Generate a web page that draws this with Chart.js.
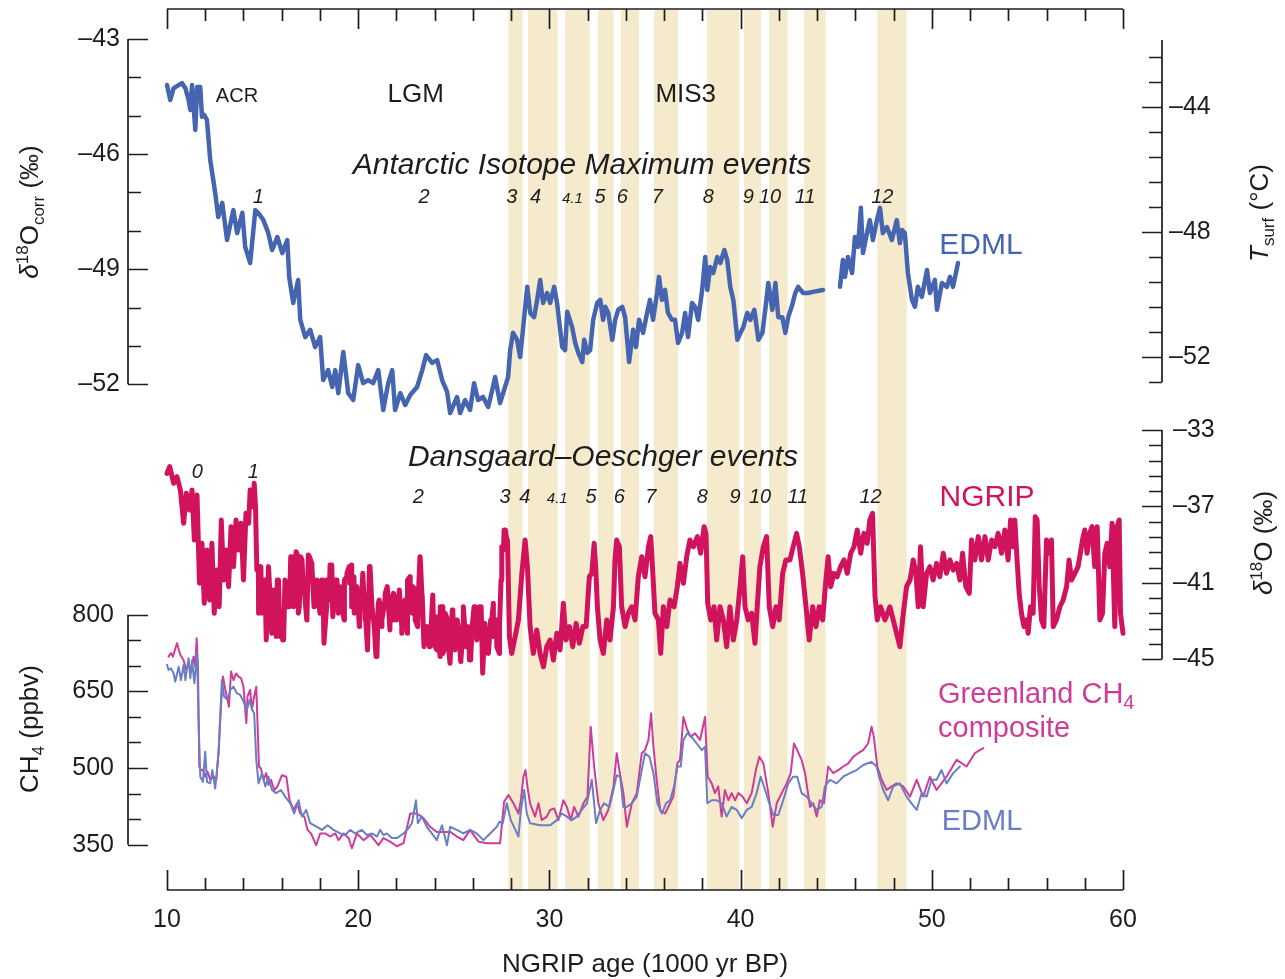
<!DOCTYPE html>
<html lang="en">
<head>
<meta charset="utf-8">
<title>EDML and NGRIP records, 10–60 kyr BP</title>
<script src="https://cdn.jsdelivr.net/npm/chart.js@4.4.1/dist/chart.umd.min.js"></script>
<style>
  body { margin: 0; background: #ffffff; }
  canvas { display: block; }
</style>
</head>
<body>
<canvas id="iceChart" width="1285" height="979"></canvas>
<script>
// ---- data (ages in 1000 yr BP, NGRIP time scale) ----

// EDML d18O corr (permil); null marks the gap in the record
const edmlAge = [
  10.00, 10.17, 10.35, 10.61, 10.78, 10.96, 11.13, 11.22, 11.31, 11.48,
  11.58, 11.74, 11.83, 11.95, 12.09, 12.26, 12.42, 12.52, 12.68, 12.89,
  13.14, 13.47, 13.67, 13.94, 14.09, 14.35, 14.62, 14.77, 15.04, 15.30,
  15.50, 15.77, 16.03, 16.29, 16.39, 16.60, 16.86, 16.97, 17.23, 17.49,
  17.75, 18.01, 18.17, 18.43, 18.64, 18.80, 18.96, 19.22, 19.48, 19.74,
  20.00, 20.26, 20.52, 20.78, 21.05, 21.31, 21.57, 21.78, 21.93, 22.20,
  22.46, 22.72, 23.08, 23.35, 23.55, 23.87, 24.13, 24.39, 24.65, 24.81,
  25.17, 25.33, 25.59, 25.85, 26.06, 26.27, 26.53, 26.80, 27.01, 27.16,
  27.42, 27.68, 27.84, 27.95, 28.10, 28.31, 28.47, 28.63, 28.84, 29.00,
  29.20, 29.36, 29.52, 29.67, 29.88, 30.04, 30.25, 30.40, 30.67, 30.82,
  30.93, 31.19, 31.35, 31.51, 31.72, 31.82, 31.98, 32.13, 32.29, 32.50,
  32.66, 32.81, 32.92, 33.08, 33.29, 33.44, 33.60, 33.81, 33.96, 34.17,
  34.38, 34.53, 34.69, 34.90, 35.11, 35.26, 35.42, 35.63, 35.73, 35.89,
  36.05, 36.20, 36.41, 36.57, 36.73, 36.94, 37.10, 37.25, 37.46, 37.62,
  37.78, 37.99, 38.15, 38.26, 38.41, 38.57, 38.78, 38.94, 39.15, 39.30,
  39.46, 39.62, 39.83, 39.99, 40.14, 40.35, 40.51, 40.72, 40.93, 41.14,
  41.29, 41.45, 41.66, 41.82, 41.97, 42.18, 42.34, 42.49, 42.70, 42.86,
  43.01, 43.27, 43.53, 43.78, 44.31, 44.80,
  45.20, 45.35, 45.46, 45.62, 45.83, 45.98, 46.14, 46.29, 46.40, 46.61,
  46.76, 46.92, 47.13, 47.29, 47.44, 47.65, 47.91, 48.17, 48.33, 48.44,
  48.59, 48.75, 48.96, 49.12, 49.27, 49.48, 49.75, 49.90, 50.16, 50.27,
  50.53, 50.79, 50.95, 51.11, 51.37
];
const edmlD18O = [
  -44.20, -44.59, -44.28, -44.20, -44.15, -44.28, -44.59, -44.85, -44.20, -45.37,
  -44.25, -44.25, -45.03, -44.98, -45.11, -46.15, -46.67, -47.01, -47.64, -47.27,
  -48.24, -47.46, -48.06, -47.53, -48.42, -48.84, -47.46, -47.53, -47.72, -48.06,
  -48.50, -48.16, -48.58, -48.24, -49.20, -49.88, -49.28, -50.32, -50.77, -50.58,
  -51.03, -50.77, -51.89, -51.63, -52.07, -51.63, -52.23, -51.16, -52.23, -52.41,
  -51.50, -51.97, -51.89, -51.97, -51.63, -52.67, -51.97, -51.63, -52.67, -52.23,
  -52.54, -52.28, -52.07, -51.63, -51.24, -51.44, -51.37, -51.89, -52.20, -52.75,
  -52.33, -52.75, -52.41, -52.67, -51.97, -52.41, -52.33, -52.59, -52.15, -51.81,
  -52.49, -52.07, -51.81, -51.11, -50.66, -50.84, -51.29, -50.51, -49.46, -50.14,
  -50.25, -49.80, -49.28, -49.88, -49.62, -49.88, -49.46, -49.88, -51.03, -51.11,
  -50.11, -50.51, -50.92, -51.18, -51.42, -50.84, -51.18, -51.11, -50.32, -49.88,
  -49.80, -50.32, -49.98, -50.14, -50.84, -50.32, -50.06, -49.98, -50.25, -51.42,
  -50.58, -51.03, -50.32, -50.66, -50.14, -49.80, -50.32, -49.62, -49.20, -49.80,
  -49.54, -50.14, -50.32, -50.32, -50.92, -50.66, -50.14, -50.77, -49.88, -49.98,
  -50.32, -49.54, -48.68, -49.54, -48.94, -49.10, -48.68, -48.84, -48.50, -48.76,
  -49.46, -49.80, -50.84, -50.66, -50.51, -50.14, -50.32, -50.06, -50.84, -50.66,
  -50.06, -49.36, -50.06, -49.36, -50.25, -50.25, -50.66, -50.25, -49.93, -49.62,
  -49.46, -49.62, -49.62, -49.59, -49.54, null,
  -49.46, -48.76, -49.20, -48.68, -49.10, -48.16, -48.42, -47.40, -48.58, -48.06,
  -47.72, -48.24, -47.72, -47.40, -48.06, -47.90, -48.24, -47.72, -48.32, -47.98,
  -48.06, -49.10, -49.80, -49.98, -49.46, -49.72, -49.02, -49.62, -49.28, -50.06,
  -49.36, -49.46, -49.20, -49.46, -48.84
];

// NGRIP d18O (permil)
const ngripAge = [
  10.00, 10.14, 10.35, 10.52, 10.70, 10.87, 11.01, 11.18, 11.31, 11.43,
  11.57, 11.70, 11.83, 11.95, 12.09, 12.23, 12.35, 12.47, 12.61, 12.73,
  12.84, 12.96, 13.10, 13.22, 13.35, 13.48, 13.61, 13.74, 13.87, 14.00,
  14.13, 14.27, 14.35, 14.50, 14.56, 14.63, 14.70, 14.79, 14.91, 15.05,
  15.19, 15.31, 15.44, 15.57, 15.71, 15.83, 15.96, 16.10, 16.24, 16.41,
  16.53, 16.65, 16.80, 16.92, 17.06, 17.18, 17.32, 17.45, 17.58, 17.70,
  17.84, 18.01, 18.15, 18.22, 18.36, 18.48, 18.62, 18.75, 18.89, 19.02,
  19.15, 19.28, 19.41, 19.55, 19.65, 19.79, 19.93, 20.07, 20.19, 20.37,
  20.49, 20.59, 20.72, 20.84, 20.98, 21.10, 21.24, 21.41, 21.53, 21.67,
  21.85, 21.99, 22.13, 22.28, 22.46, 22.58, 22.72, 22.86, 22.98, 23.15,
  23.24, 23.33, 23.45, 23.59, 23.76, 23.94, 24.11, 24.29, 24.43, 24.55,
  24.69, 24.81, 24.95, 25.07, 25.24, 25.37, 25.50, 25.68, 25.82, 25.96,
  26.12, 26.29, 26.43, 26.52, 26.64, 26.81, 26.95, 27.07, 27.25, 27.39,
  27.47, 27.60, 27.70, 27.81, 27.91, 28.03, 28.21, 28.38, 28.56, 28.73,
  28.85, 28.99, 29.16, 29.34, 29.51, 29.69, 29.86, 30.04, 30.21, 30.39,
  30.56, 30.73, 30.87, 31.05, 31.22, 31.40, 31.57, 31.75, 31.92, 32.09,
  32.22, 32.34, 32.43, 32.51, 32.65, 32.82, 33.00, 33.17, 33.35, 33.43,
  33.52, 33.66, 33.78, 33.96, 34.13, 34.31, 34.48, 34.65, 34.83, 35.00,
  35.18, 35.30, 35.41, 35.52, 35.70, 35.82, 35.96, 36.14, 36.31, 36.52,
  36.69, 36.83, 37.01, 37.18, 37.35, 37.53, 37.74, 37.91, 38.09, 38.19,
  38.28, 38.44, 38.61, 38.75, 38.92, 39.10, 39.27, 39.44, 39.62, 39.80,
  39.97, 40.11, 40.23, 40.40, 40.58, 40.75, 40.87, 41.01, 41.19, 41.36,
  41.50, 41.68, 41.85, 42.02, 42.20, 42.37, 42.58, 42.75, 42.93, 43.07,
  43.24, 43.42, 43.59, 43.77, 43.94, 44.11, 44.29, 44.46, 44.58, 44.71,
  44.88, 45.05, 45.23, 45.41, 45.58, 45.76, 45.93, 46.10, 46.28, 46.45,
  46.62, 46.76, 46.90, 47.03, 47.15, 47.32, 47.55, 47.81, 48.07, 48.33,
  48.51, 48.68, 48.86, 49.03, 49.17, 49.29, 49.41, 49.55, 49.73, 49.90,
  50.07, 50.25, 50.42, 50.60, 50.77, 50.95, 51.12, 51.30, 51.47, 51.61,
  51.78, 51.96, 52.08, 52.25, 52.43, 52.60, 52.78, 52.95, 53.13, 53.30,
  53.47, 53.65, 53.82, 53.99, 54.12, 54.26, 54.34, 54.46, 54.57, 54.69,
  54.82, 54.96, 55.04, 55.16, 55.30, 55.41, 55.51, 55.62, 55.74, 55.86,
  56.00, 56.14, 56.26, 56.35, 56.52, 56.70, 56.87, 57.05, 57.18, 57.31,
  57.48, 57.65, 57.74, 57.88, 58.00, 58.12, 58.26, 58.38, 58.52, 58.65,
  58.79, 58.93, 59.05, 59.17, 59.31, 59.43, 59.57, 59.69, 59.80, 59.87,
  60.00
];
const ngripD18O = [
  -35.27, -34.92, -35.79, -35.44, -36.14, -37.88, -36.31, -37.19, -36.14, -38.76,
  -36.40, -41.02, -38.93, -42.07, -39.28, -41.90, -38.93, -42.59, -40.33, -42.25,
  -37.71, -40.85, -39.28, -41.20, -38.06, -40.15, -37.71, -39.28, -37.88, -40.85,
  -37.36, -37.88, -36.14, -37.01, -35.79, -37.01, -40.33, -42.59, -40.15, -41.90,
  -43.99, -40.15, -42.77, -41.37, -43.81, -40.85, -42.59, -43.99, -41.02, -42.25,
  -39.63, -41.90, -39.45, -42.25, -39.80, -41.37, -42.77, -39.63, -40.15, -41.55,
  -41.20, -42.25, -40.85, -43.99, -40.85, -41.90, -40.07, -41.72, -40.85, -41.55,
  -42.25, -40.85, -40.50, -41.02, -40.07, -42.59, -41.20, -41.72, -41.55, -42.59,
  -44.51, -40.15, -42.25, -43.29, -44.86, -41.90, -42.94, -41.55, -41.20, -42.25,
  -42.94, -41.72, -42.25, -43.29, -41.90, -40.85, -42.25, -41.20, -42.94, -41.55,
  -39.63, -41.55, -43.99, -43.64, -44.34, -43.29, -44.51, -42.25, -44.69, -42.59,
  -43.99, -45.04, -42.59, -44.34, -43.29, -45.04, -43.29, -44.34, -45.04, -43.29,
  -42.25, -43.47, -42.25, -45.73, -43.29, -44.69, -43.29, -42.07, -44.34, -43.29,
  -40.85, -39.28, -38.23, -38.76, -43.81, -44.69, -43.81, -42.94, -40.50, -38.76,
  -40.15, -43.29, -44.69, -43.47, -44.69, -45.39, -44.34, -43.99, -45.04, -43.64,
  -44.51, -42.07, -43.99, -43.29, -44.34, -43.12, -44.16, -43.29, -43.29, -40.68,
  -40.50, -38.93, -40.33, -42.25, -43.99, -44.69, -42.94, -43.99, -42.25, -39.80,
  -38.76, -39.11, -42.25, -43.29, -42.59, -42.25, -42.94, -40.68, -39.63, -40.68,
  -39.11, -38.58, -40.50, -42.59, -42.94, -44.69, -42.25, -43.29, -41.90, -42.25,
  -41.20, -39.98, -41.02, -39.63, -38.76, -39.11, -38.58, -39.45, -38.06, -38.41,
  -42.07, -42.94, -42.25, -43.99, -42.25, -42.94, -44.34, -42.25, -43.99, -42.94,
  -41.20, -39.63, -42.25, -42.94, -42.59, -44.16, -42.25, -40.15, -39.11, -38.58,
  -42.25, -43.29, -42.25, -42.94, -40.50, -39.80, -39.80, -39.11, -38.41, -39.11,
  -40.50, -42.25, -43.99, -42.25, -43.29, -42.25, -42.94, -40.85, -39.63, -41.20,
  -40.50, -40.68, -40.15, -39.80, -40.50, -39.45, -39.11, -38.23, -39.45, -38.41,
  -38.93, -37.71, -37.36, -41.72, -42.94, -42.25, -42.94, -42.25, -43.29, -44.34,
  -42.59, -41.20, -40.85, -39.80, -40.50, -42.25, -39.11, -42.25, -40.50, -40.15,
  -40.85, -39.98, -40.68, -39.45, -40.50, -39.80, -40.33, -39.98, -40.85, -39.45,
  -41.20, -41.55, -38.76, -39.80, -38.58, -39.80, -38.58, -39.80, -38.76, -39.11,
  -38.41, -39.45, -38.23, -39.80, -37.71, -39.11, -37.71, -39.80, -41.55, -42.59,
  -43.29, -42.94, -43.64, -42.25, -42.59, -37.54, -37.71, -41.20, -42.94, -43.29,
  -38.76, -39.45, -38.76, -43.29, -42.94, -42.25, -41.90, -41.20, -39.80, -40.85,
  -40.50, -40.15, -39.63, -38.76, -38.23, -39.45, -38.41, -38.06, -40.15, -38.06,
  -42.94, -42.59, -39.45, -38.93, -40.15, -37.88, -43.29, -38.06, -37.71, -42.59,
  -43.64
];

// second, finer reading of the dense NGRIP section 14.8-27.8 kyr
const ngripAgeDetail = [
  14.78, 14.95, 15.13, 15.21, 15.33, 15.48, 15.65, 15.77, 15.91, 16.05,
  16.17, 16.29, 16.47, 16.61, 16.75, 16.87, 16.99, 17.13, 17.31, 17.39,
  17.57, 17.69, 17.83, 18.00, 18.09, 18.21, 18.35, 18.53, 18.67, 18.79,
  18.96, 19.08, 19.26, 19.40, 19.53, 19.66, 19.78, 19.92, 20.06, 20.24,
  20.36, 20.48, 20.62, 20.76, 20.93, 21.05, 21.23, 21.40, 21.52, 21.66,
  21.84, 22.01, 22.15, 22.28, 22.45, 22.57, 22.71, 22.83, 22.97, 23.11,
  23.23, 23.35, 23.44, 23.58, 23.72, 23.90, 24.02, 24.16, 24.28, 24.42,
  24.54, 24.68, 24.80, 24.92, 25.06, 25.18, 25.36, 25.50, 25.64, 25.76,
  25.88, 26.06, 26.20, 26.34, 26.51, 26.63, 26.80, 26.93, 27.07, 27.24,
  27.38, 27.51, 27.63, 27.77
];
const ngripD18ODetail = [
  -40.15, -42.59, -40.85, -43.99, -40.15, -43.64, -41.72, -40.85, -43.81, -43.99,
  -40.85, -42.25, -39.63, -42.25, -39.37, -42.59, -39.63, -41.37, -42.94, -39.54,
  -39.98, -42.25, -40.85, -42.59, -40.85, -44.16, -42.25, -40.06, -42.77, -40.85,
  -42.59, -41.20, -42.94, -40.68, -40.15, -42.25, -40.68, -41.72, -43.29, -40.50,
  -42.94, -44.34, -40.15, -42.59, -44.86, -42.07, -43.29, -41.90, -41.20, -43.47,
  -41.55, -42.94, -41.37, -43.64, -41.90, -43.64, -40.68, -42.59, -41.37, -43.29,
  -39.63, -41.72, -44.34, -43.29, -44.34, -41.63, -44.34, -42.77, -44.86, -42.25,
  -44.34, -42.94, -45.21, -42.42, -44.51, -42.94, -45.12, -42.25, -44.34, -43.29,
  -45.04, -42.25, -43.99, -42.25, -45.73, -43.12, -44.16, -42.94, -43.81, -42.94,
  -44.69, -39.11, -38.23, -38.76
];

// Greenland CH4 composite (ppbv)
const grCh4Age = [
  10.08, 10.21, 10.31, 10.52, 10.70, 10.87, 11.01, 11.13, 11.25, 11.39,
  11.48, 11.55, 11.62, 11.69, 11.78, 11.88, 12.00, 12.12, 12.26, 12.44,
  12.58, 12.70, 12.82, 12.93, 13.05, 13.17, 13.24, 13.35, 13.48, 13.61,
  13.74, 13.87, 14.00, 14.15, 14.21, 14.35, 14.44, 14.56, 14.67, 14.74,
  14.81, 14.91, 15.05, 15.19, 15.31, 15.44, 15.61, 15.78, 16.01, 16.24,
  16.41, 16.62, 16.80, 16.97, 17.18, 17.35, 17.53, 17.80, 18.01, 18.27,
  18.54, 18.80, 18.97, 19.23, 19.50, 19.67, 19.93, 20.28, 20.63, 21.06,
  21.32, 21.67, 22.02, 22.37, 22.72, 23.07, 23.41, 23.76, 24.11, 24.46,
  24.81, 25.16, 25.50, 25.85, 26.29, 26.73, 27.07, 27.42, 27.63, 27.86,
  28.12, 28.38, 28.51, 28.64, 28.75, 28.85, 28.99, 29.25, 29.43, 29.60,
  29.86, 30.04, 30.25, 30.47, 30.73, 30.91, 31.12, 31.29, 31.52, 31.78,
  31.99, 32.16, 32.34, 32.56, 32.82, 33.08, 33.35, 33.52, 33.66, 33.87,
  34.05, 34.31, 34.57, 34.83, 35.00, 35.18, 35.32, 35.44, 35.61, 35.79,
  36.05, 36.31, 36.48, 36.69, 36.83, 37.01, 37.21, 37.39, 37.62, 37.88,
  38.14, 38.28, 38.49, 38.66, 38.83, 39.01, 39.18, 39.36, 39.53, 39.71,
  39.88, 40.11, 40.32, 40.58, 40.80, 40.98, 41.19, 41.45, 41.68, 41.89,
  42.15, 42.41, 42.62, 42.79, 42.96, 43.19, 43.37, 43.63, 43.80, 43.98,
  44.15, 44.36, 44.58, 44.85, 45.11, 45.37, 45.63, 45.89, 46.15, 46.41,
  46.67, 46.85, 46.97, 47.15, 47.38, 47.64, 47.90, 48.16, 48.51, 48.86,
  49.21, 49.55, 49.90, 50.25, 50.77, 51.30, 51.82, 52.25, 52.69
];
const grCh4 = [
  718, 725, 718, 744, 721, 711, 692, 705, 689, 718,
  698, 754, 698, 503, 496, 496, 483, 493, 477, 483,
  477, 535, 620, 679, 653, 633, 620, 689, 672, 685,
  679, 676, 659, 588, 640, 653, 614, 640, 659, 581,
  503, 499, 477, 490, 467, 477, 457, 464, 486, 483,
  437, 418, 431, 411, 405, 379, 372, 349, 372, 372,
  366, 372, 359, 372, 363, 343, 372, 359, 369, 349,
  363, 356, 347, 353, 411, 411, 402, 385, 375, 375,
  375, 366, 359, 379, 356, 353, 353, 353, 434, 447,
  431, 411, 437, 483, 496, 464, 431, 405, 431, 398,
  405, 418, 421, 398, 437, 424, 398, 424, 405, 431,
  444, 581, 503, 431, 398, 418, 464, 529, 496, 451,
  385, 431, 451, 529, 535, 555, 607, 542, 477, 418,
  411, 431, 444, 509, 516, 600, 575, 561, 568, 555,
  600, 483, 470, 451, 464, 405, 457, 437, 451, 437,
  451, 444, 431, 451, 496, 522, 509, 451, 385, 431,
  451, 470, 490, 548, 535, 516, 490, 424, 431, 405,
  437, 431, 503, 490, 496, 503, 509, 522, 529, 535,
  548, 581, 561, 503, 477, 457, 464, 470, 464, 444,
  477, 444, 483, 457, 483, 516, 503, 529, 539
];

// EDML CH4 (ppbv)
const edmlCh4Age = [
  10.00, 10.08, 10.21, 10.35, 10.43, 10.61, 10.73, 10.87, 10.96, 11.13,
  11.22, 11.31, 11.43, 11.57, 11.65, 11.74, 11.88, 12.00, 12.09, 12.26,
  12.37, 12.52, 12.70, 12.87, 12.99, 13.17, 13.31, 13.48, 13.66, 13.83,
  13.97, 14.18, 14.32, 14.46, 14.56, 14.67, 14.79, 14.97, 15.14, 15.31,
  15.49, 15.71, 15.96, 16.18, 16.45, 16.65, 16.88, 17.06, 17.28, 17.49,
  17.84, 18.10, 18.40, 18.71, 19.06, 19.32, 19.58, 19.84, 20.19, 20.45,
  20.72, 20.98, 21.15, 21.32, 21.50, 21.76, 22.02, 22.37, 22.63, 22.81,
  23.02, 23.12, 23.33, 23.59, 23.85, 24.11, 24.38, 24.64, 24.81, 25.16,
  25.50, 25.85, 26.20, 26.55, 26.90, 27.25, 27.39, 27.56, 27.77, 27.98,
  28.21, 28.38, 28.51, 28.68, 28.82, 28.99, 29.51, 30.04, 30.39, 30.65,
  30.91, 31.17, 31.43, 31.69, 31.96, 32.22, 32.44, 32.65, 32.86, 33.14,
  33.35, 33.52, 33.70, 33.87, 34.05, 34.31, 34.57, 34.83, 35.00, 35.23,
  35.44, 35.65, 35.88, 36.10, 36.31, 36.52, 36.69, 36.87, 37.01, 37.21,
  37.44, 37.70, 37.97, 38.14, 38.26, 38.49, 38.75, 39.01, 39.27, 39.53,
  39.80, 40.06, 40.32, 40.58, 40.84, 41.05, 41.28, 41.50, 41.71, 41.97,
  42.23, 42.49, 42.75, 42.96, 43.19, 43.46, 43.72, 43.98, 44.24, 44.41,
  44.67, 45.02, 45.37, 45.72, 46.07, 46.41, 46.85, 47.11, 47.29, 47.46,
  47.72, 47.98, 48.33, 48.68, 48.94, 49.21, 49.47, 49.73, 49.99, 50.25,
  50.51, 50.77, 51.12, 51.47
];
const edmlCh4 = [
  702, 692, 695, 685, 669, 698, 672, 702, 672, 715,
  676, 711, 666, 725, 594, 483, 473, 532, 473, 470,
  496, 460, 529, 672, 640, 633, 653, 659, 646, 643,
  633, 614, 633, 614, 607, 516, 470, 490, 464, 483,
  457, 451, 457, 444, 431, 411, 437, 405, 418, 392,
  385, 379, 388, 379, 372, 369, 379, 372, 379, 369,
  372, 366, 379, 369, 372, 363, 363, 372, 382, 392,
  437, 392, 405, 385, 372, 359, 388, 349, 385, 379,
  372, 379, 372, 359, 372, 385, 395, 392, 431, 398,
  380, 366, 418, 457, 411, 392, 388, 388, 398, 411,
  405, 398, 405, 418, 431, 477, 392, 418, 431, 424,
  457, 486, 483, 424, 424, 431, 444, 496, 529, 522,
  490, 431, 411, 431, 437, 464, 503, 503, 555, 568,
  561, 548, 535, 542, 431, 437, 437, 431, 405, 424,
  418, 402, 418, 424, 451, 483, 457, 431, 408, 408,
  437, 470, 483, 483, 451, 444, 431, 418, 424, 464,
  477, 470, 483, 490, 496, 506, 512, 503, 477, 457,
  437, 464, 470, 444, 431, 418, 451, 444, 477, 477,
  496, 470, 490, 503
];

// Antarctic Isotope Maximum shading (start / end age)
const aimStart = [27.85, 28.88, 30.82, 32.54, 33.74, 35.47, 38.24, 40.17, 41.49, 43.31, 47.15];
const aimEnd   = [28.60, 30.43, 32.11, 33.36, 34.69, 36.73, 39.93, 41.07, 42.46, 44.45, 48.69];

// event numbers and where they sit on the age axis
const aimLabels = ['1', '2', '3', '4', '4.1', '5', '6', '7', '8', '9', '10', '11', '12'];
const aimLabelAge = [14.78, 23.44, 28.03, 29.28, 31.20, 32.65, 33.81, 35.64, 38.31, 40.40, 41.54, 43.37, 47.41];
const doLabels = ['0', '1', '2', '3', '4', '4.1', '5', '6', '7', '8', '9', '10', '11', '12'];
const doLabelAge = [11.58, 14.51, 23.14, 27.68, 28.72, 30.41, 32.18, 33.66, 35.30, 38.00, 39.71, 41.02, 42.99, 46.80];

// axis ticks
const ageLabels = [10, 20, 30, 40, 50, 60];
const edmlTickLabels = [-43, -46, -49, -52];
const tempTickLabels = [-44, -48, -52];
const ngripTickLabels = [-33, -37, -41, -45];
const ch4TickLabels = [800, 650, 500, 350];

// ---- layout ----
const FAMILY = '"Liberation Sans", Arial, Helvetica, sans-serif';
const INK = '#1f1c1d';
const BLUE = '#4565b0';
const CRIMSON = '#d1135e';
const MAGENTA = '#cf3c98';
const LAVENDER = '#6a7ec3';
const BAND = '#f5eacb';

const AREA_TOP = 9, AREA_BOTTOM = 890;
const LEFT_AXIS_X = 128, RIGHT_AXIS_X = 1162;
const MAJOR = 20, MINOR = 13;

// min/max for a hidden scale so that v1 lands at pixel p1 and v2 at p2
function rangeFrom(v1, p1, v2, p2) {
  const k = (v2 - v1) / (p2 - p1);
  return { min: v1 + (AREA_BOTTOM - p1) * k, max: v1 + (AREA_TOP - p1) * k };
}

function font(size, style) {
  return (style ? style + ' ' : '') + size + 'px ' + FAMILY;
}

function fmt(v) {
  return v < 0 ? '\u2013' + Math.abs(v) : String(v);
}

// draw a run of text pieces (for sub/superscripts)
function drawRuns(ctx, parts, x, y, align) {
  let width = 0;
  parts.forEach(p => {
    ctx.font = p.font;
    p.w = ctx.measureText(p.text).width;
    width += p.w;
  });
  let cx = align === 'center' ? x - width / 2 : (align === 'right' ? x - width : x);
  ctx.textAlign = 'left';
  ctx.textBaseline = 'alphabetic';
  parts.forEach(p => {
    ctx.font = p.font;
    ctx.fillText(p.text, cx, y + (p.dy || 0));
    cx += p.w;
  });
}

function verticalTitle(ctx, parts, x, y) {
  ctx.save();
  ctx.translate(x, y);
  ctx.rotate(-Math.PI / 2);
  drawRuns(ctx, parts, 0, 0, 'center');
  ctx.restore();
}

function stepTicks(from, to, step) {
  const out = [];
  const n = Math.round(Math.abs(to - from) / step);
  for (let i = 0; i <= n; i++) out.push(+(from + Math.sign(to - from) * step * i).toFixed(2));
  return out;
}

function drawYAxis(ctx, scale, axisX, lineFrom, lineTo, ticks, majors, dir) {
  ctx.beginPath();
  ctx.moveTo(axisX, scale.getPixelForValue(lineFrom));
  ctx.lineTo(axisX, scale.getPixelForValue(lineTo));
  ticks.forEach(v => {
    const y = Math.round(scale.getPixelForValue(v)) + 0.5;
    const isMajor = majors.some(m => Math.abs(m - v) < 1e-6);
    ctx.moveTo(axisX, y);
    ctx.lineTo(axisX + dir * (isMajor ? MAJOR : MINOR), y);
  });
  ctx.stroke();
}

const decorations = {
  id: 'decorations',
  beforeDatasetsDraw(chart) {
    const { ctx, chartArea, scales } = chart;
    ctx.save();
    ctx.fillStyle = BAND;
    aimStart.forEach((s, i) => {
      const x0 = scales.x.getPixelForValue(s);
      const x1 = scales.x.getPixelForValue(aimEnd[i]);
      ctx.fillRect(x0, chartArea.top + 1, x1 - x0, chartArea.bottom - chartArea.top - 1);
    });
    ctx.restore();
  },
  afterDraw(chart) {
    const { ctx, chartArea, scales } = chart;
    const x = scales.x;
    ctx.save();
    ctx.strokeStyle = INK;
    ctx.fillStyle = INK;
    ctx.lineWidth = 1.7;

    // age axes, top and bottom
    const ageTicks = stepTicks(10, 60, 2);
    ctx.beginPath();
    ctx.moveTo(x.getPixelForValue(10), chartArea.top);
    ctx.lineTo(x.getPixelForValue(60), chartArea.top);
    ctx.moveTo(x.getPixelForValue(10), chartArea.bottom);
    ctx.lineTo(x.getPixelForValue(60), chartArea.bottom);
    ageTicks.forEach(a => {
      const px = Math.round(x.getPixelForValue(a)) + 0.5;
      const len = ageLabels.includes(a) ? MAJOR : MINOR - 1;
      ctx.moveTo(px, chartArea.top);
      ctx.lineTo(px, chartArea.top + len);
      ctx.moveTo(px, chartArea.bottom);
      ctx.lineTo(px, chartArea.bottom - len);
    });
    ctx.stroke();
    ctx.font = font(25);
    ctx.textAlign = 'center';
    ctx.textBaseline = 'middle';
    ageLabels.forEach(a => ctx.fillText(String(a), x.getPixelForValue(a), 920));
    drawRuns(ctx, [{ text: 'NGRIP age (1000 yr BP)', font: font(26) }], 645, 972, 'center');

    // EDML d18O (left, top)
    drawYAxis(ctx, scales.yEdml, LEFT_AXIS_X, -43, -52, stepTicks(-43, -52, 1), edmlTickLabels, 1);
    // CH4 (left, bottom)
    drawYAxis(ctx, scales.yCh4, LEFT_AXIS_X, 800, 350, stepTicks(800, 350, 50), ch4TickLabels, 1);
    // Tsurf (right, top)
    drawYAxis(ctx, scales.yTemp, RIGHT_AXIS_X, -41.85, -52.8, stepTicks(-42.4, -52.8, 0.8), tempTickLabels, -1);
    // NGRIP d18O (right, middle)
    drawYAxis(ctx, scales.yNgrip, RIGHT_AXIS_X, -33, -45, stepTicks(-33, -45, 0.8), ngripTickLabels, -1);

    ctx.font = font(25);
    ctx.textBaseline = 'middle';
    ctx.textAlign = 'right';
    edmlTickLabels.forEach(v => ctx.fillText(fmt(v), 120, scales.yEdml.getPixelForValue(v)));
    ch4TickLabels.forEach(v => ctx.fillText(fmt(v), 114, scales.yCh4.getPixelForValue(v)));
    ctx.textAlign = 'left';
    tempTickLabels.forEach(v => ctx.fillText(fmt(v), 1169, scales.yTemp.getPixelForValue(v)));
    ngripTickLabels.forEach(v => ctx.fillText(fmt(v), 1173, scales.yNgrip.getPixelForValue(v)));

    // axis titles
    const big = font(26), small = font(17);
    verticalTitle(ctx, [
      { text: '\u03b4', font: font(26, 'italic') },
      { text: '18', font: small, dy: -10 },
      { text: 'O', font: big },
      { text: 'corr', font: small, dy: 6 },
      { text: ' (\u2030)', font: big }
    ], 38, 212);
    verticalTitle(ctx, [
      { text: 'CH', font: big },
      { text: '4', font: small, dy: 6 },
      { text: ' (ppbv)', font: big }
    ], 38, 729);
    verticalTitle(ctx, [
      { text: 'T', font: font(26, 'italic') },
      { text: 'surf', font: small, dy: 6 },
      { text: ' (\u00b0C)', font: big }
    ], 1268, 213);
    verticalTitle(ctx, [
      { text: '\u03b4', font: font(26, 'italic') },
      { text: '18', font: small, dy: -10 },
      { text: 'O (\u2030)', font: big }
    ], 1272, 543);

    // period labels
    drawRuns(ctx, [{ text: 'ACR', font: font(20) }], x.getPixelForValue(13.66), 102, 'center');
    drawRuns(ctx, [{ text: 'LGM', font: font(26) }], x.getPixelForValue(23.01), 102, 'center');
    drawRuns(ctx, [{ text: 'MIS3', font: font(26) }], x.getPixelForValue(37.13), 102, 'center');

    // event titles and numbers
    drawRuns(ctx, [{ text: 'Antarctic Isotope Maximum events', font: font(30, 'italic') }], 582, 174, 'center');
    aimLabels.forEach((t, i) => {
      const f = t === '4.1' ? font(15, 'italic') : font(20, 'italic');
      drawRuns(ctx, [{ text: t, font: f }], x.getPixelForValue(aimLabelAge[i]), 203, 'center');
    });
    drawRuns(ctx, [{ text: 'Dansgaard\u2013Oeschger events', font: font(30, 'italic') }], 603, 466, 'center');
    doLabels.forEach((t, i) => {
      const f = t === '4.1' ? font(15, 'italic') : font(20, 'italic');
      const base = i < 2 ? 478 : 503;
      drawRuns(ctx, [{ text: t, font: f }], x.getPixelForValue(doLabelAge[i]), base, 'center');
    });

    // series names
    ctx.fillStyle = BLUE;
    drawRuns(ctx, [{ text: 'EDML', font: font(30) }], 981, 254, 'center');
    ctx.fillStyle = CRIMSON;
    drawRuns(ctx, [{ text: 'NGRIP', font: font(30) }], 987, 506, 'center');
    ctx.fillStyle = MAGENTA;
    drawRuns(ctx, [
      { text: 'Greenland CH', font: font(29) },
      { text: '4', font: font(20), dy: 6 }
    ], 938, 703, 'left');
    drawRuns(ctx, [{ text: 'composite', font: font(29) }], 938, 737, 'left');
    ctx.fillStyle = LAVENDER;
    drawRuns(ctx, [{ text: 'EDML', font: font(29) }], 982, 830, 'center');

    ctx.restore();
  }
};

function series(ages, values) {
  return ages.map((a, i) => ({ x: a, y: values[i] }));
}

// both NGRIP readings go into one age-ordered line
const ngripPoints = series(ngripAge, ngripD18O)
  .concat(series(ngripAgeDetail, ngripD18ODetail))
  .sort((a, b) => a.x - b.x);

const lineStyle = { pointRadius: 0, tension: 0, borderJoinStyle: 'round', borderCapStyle: 'round', clip: false, spanGaps: false };

new Chart(document.getElementById('iceChart'), {
  type: 'line',
  data: {
    datasets: [
      { ...lineStyle, label: 'EDML δ18O', data: series(edmlAge, edmlD18O), yAxisID: 'yEdml', borderColor: BLUE, borderWidth: 4.5 },
      { ...lineStyle, label: 'NGRIP δ18O', data: ngripPoints, yAxisID: 'yNgrip', borderColor: CRIMSON, borderWidth: 5 },
      { ...lineStyle, label: 'EDML CH4', data: series(edmlCh4Age, edmlCh4), yAxisID: 'yCh4', borderColor: LAVENDER, borderWidth: 2 },
      { ...lineStyle, label: 'Greenland CH4 composite', data: series(grCh4Age, grCh4), yAxisID: 'yCh4', borderColor: MAGENTA, borderWidth: 2 }
    ]
  },
  options: {
    responsive: false,
    animation: false,
    devicePixelRatio: 1,
    events: [],
    layout: { padding: { left: 167, right: 162, top: AREA_TOP, bottom: 979 - AREA_BOTTOM } },
    plugins: { legend: { display: false }, tooltip: { enabled: false } },
    scales: {
      x: { type: 'linear', min: 10, max: 60, display: false },
      yEdml: { type: 'linear', display: false, ...rangeFrom(-43, 39, -52, 384.3) },
      yTemp: { type: 'linear', display: false, ...rangeFrom(-44, 107.3, -52, 357.3) },
      yNgrip: { type: 'linear', display: false, ...rangeFrom(-33, 430, -45, 659.3) },
      yCh4: { type: 'linear', display: false, ...rangeFrom(800, 614.7, 350, 844.7) }
    }
  },
  plugins: [decorations]
});
</script>
</body>
</html>
